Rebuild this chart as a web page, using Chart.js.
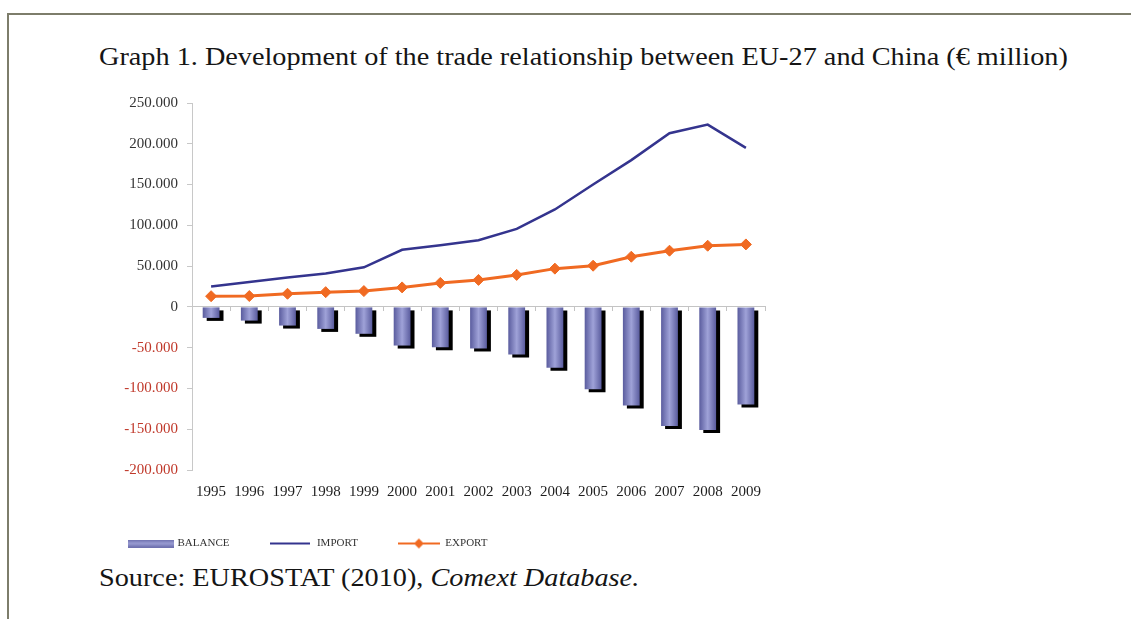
<!DOCTYPE html>
<html>
<head>
<meta charset="utf-8">
<script src="https://cdn.jsdelivr.net/npm/chart.js@4.4.1/dist/chart.umd.min.js"></script>
<style>
  html, body { margin: 0; padding: 0; background: #fff; }
  body { width: 1131px; height: 619px; position: relative; overflow: hidden;
         font-family: "Liberation Serif", "Times New Roman", serif; }
  #frame { position: absolute; left: 7px; top: 13px; width: 1130px; height: 612px;
           border-top: 2px solid #7d7d6b; border-left: 2px solid #7d7d6b; }
  #title, #source { position: absolute; left: 99px; font-size: 25px; line-height: 30px;
           color: #151515; white-space: nowrap; transform: scaleX(1.13); transform-origin: 0 50%; }
  #title { top: 42px; }
  #source { top: 563px; }
  #wrap { position: absolute; left: 0; top: 0; width: 1131px; height: 619px; }
</style>
</head>
<body>
<div id="frame"></div>
<div id="title">Graph 1. Development of the trade relationship between EU-27 and China (€ million)</div>
<div id="source">Source: EUROSTAT (2010), <i>Comext Database.</i></div>
<div id="wrap"><canvas id="chart" width="1131" height="619"></canvas></div>
<script>
// EU-27 trade with China, € million
const years = ['1995', '1996', '1997', '1998', '1999', '2000', '2001', '2002',
               '2003', '2004', '2005', '2006', '2007', '2008', '2009'];
const balance = [-13500, -16800, -22900, -27000, -33000, -47400, -49500, -51000,
                 -58400, -74700, -101000, -121000, -146000, -151000, -119600];
const imports = [25000, 30600, 36000, 41000, 48500, 70000, 75500, 81700,
                 95600, 119500, 150000, 180000, 213000, 223500, 195000];
const exports = [13100, 13300, 16100, 18100, 19400, 23900, 29400, 33100,
                 39200, 46900, 50500, 61500, 68900, 75000, 76600];
const seriesNames = ['BALANCE', 'IMPORT', 'EXPORT'];
const yMin = -200000, yMax = 250000, yStep = 50000;

const BAR_FRACTION = 0.44;
const IMPORT_COLOR = '#34348e';
const EXPORT_COLOR = '#f06a22';
const SERIF = '"Liberation Serif", "Times New Roman", serif';

// "250.000" style thousands separator
function fmt(v) {
  const s = Math.abs(v).toString().replace(/\B(?=(\d{3})+(?!\d))/g, '.');
  return (v < 0 ? '-' : '') + s;
}

// cylinder-like shading across each bar
function barFill(c) {
  const chart = c.chart;
  const xs = chart.scales && chart.scales.x;
  if (!chart.chartArea || !xs || c.dataIndex === undefined) return '#7f82c2';
  const cx = xs.getPixelForValue(c.dataIndex);
  const half = xs.width / years.length * BAR_FRACTION / 2;
  const g = chart.ctx.createLinearGradient(cx - half, 0, cx + half, 0);
  g.addColorStop(0, '#5a5c9e');
  g.addColorStop(0.5, '#9fa2d8');
  g.addColorStop(1, '#5a5c9e');
  return g;
}

// legend swatches
function swatch(w, h, paint) {
  const cv = document.createElement('canvas');
  cv.width = w; cv.height = h;
  paint(cv.getContext('2d'), w, h);
  return cv;
}
const balanceSwatch = swatch(46, 8, (g, w, h) => {
  const gr = g.createLinearGradient(0, 0, 0, h);
  gr.addColorStop(0, '#6a6cab'); gr.addColorStop(0.5, '#9a9dd3'); gr.addColorStop(1, '#6a6cab');
  g.fillStyle = gr; g.fillRect(0, 0, w, h);
});
const importSwatch = swatch(40, 6, (g, w, h) => {
  g.strokeStyle = IMPORT_COLOR; g.lineWidth = 2;
  g.beginPath(); g.moveTo(0, h / 2); g.lineTo(w, h / 2); g.stroke();
});
const exportSwatch = swatch(42, 12, (g, w, h) => {
  g.strokeStyle = EXPORT_COLOR; g.lineWidth = 2;
  g.beginPath(); g.moveTo(0, h / 2); g.lineTo(w, h / 2); g.stroke();
  g.fillStyle = EXPORT_COLOR;
  g.beginPath(); g.moveTo(w / 2 - 5, h / 2); g.lineTo(w / 2, h / 2 - 5);
  g.lineTo(w / 2 + 5, h / 2); g.lineTo(w / 2, h / 2 + 5); g.closePath(); g.fill();
});
const swatches = [balanceSwatch, importSwatch, exportSwatch];

// hard black drop shadow under the balance bars
const barShadow = {
  id: 'barShadow',
  beforeDatasetDraw(chart, args) {
    if (args.index !== 0) return;
    const ctx = chart.ctx;
    ctx.save();
    ctx.shadowColor = '#000';
    ctx.shadowOffsetX = 4;
    ctx.shadowOffsetY = 3;
    ctx.shadowBlur = 0;
  },
  afterDatasetDraw(chart, args) {
    if (args.index === 0) chart.ctx.restore();
  }
};

new Chart(document.getElementById('chart'), {
  type: 'bar',
  data: {
    labels: years,
    datasets: [
      {
        type: 'bar', label: seriesNames[0], data: balance,
        backgroundColor: barFill, borderWidth: 0,
        barPercentage: BAR_FRACTION, categoryPercentage: 1.0, order: 3
      },
      {
        type: 'line', label: seriesNames[1], data: imports,
        borderColor: IMPORT_COLOR, backgroundColor: IMPORT_COLOR, borderWidth: 2.5,
        pointRadius: 0, tension: 0, order: 2
      },
      {
        type: 'line', label: seriesNames[2], data: exports,
        borderColor: EXPORT_COLOR, backgroundColor: EXPORT_COLOR, borderWidth: 3,
        pointStyle: 'rectRot', pointRadius: 5.5, pointBorderWidth: 1,
        pointBackgroundColor: EXPORT_COLOR, pointBorderColor: EXPORT_COLOR,
        tension: 0, order: 1
      }
    ]
  },
  options: {
    responsive: false,
    animation: false,
    layout: { padding: { left: 90, right: 366, top: 103, bottom: 60 } },
    scales: {
      x: {
        type: 'category', position: 'bottom', offset: true,
        grid: { display: false, drawTicks: false },
        border: { display: false },
        ticks: { color: '#1e1e1e', font: { family: SERIF, size: 15 }, padding: 13,
                 maxRotation: 0, autoSkip: false },
        afterFit(scale) { scale.height = 28; }
      },
      x2: {
        type: 'category', axis: 'x', position: { y: 0 }, offset: true,
        grid: { offset: true, drawOnChartArea: false, drawTicks: true, tickLength: 4,
                color: '#c4c4c4', lineWidth: 1 },
        border: { display: true, color: '#c4c4c4', width: 1 },
        ticks: { display: false }
      },
      y: {
        type: 'linear', position: 'left', min: yMin, max: yMax,
        grid: { drawOnChartArea: false, drawTicks: true, tickLength: 5,
                color: '#c8c8c8', lineWidth: 1 },
        border: { display: true, color: '#c8c8c8', width: 1 },
        ticks: {
          stepSize: yStep,
          padding: 9,
          font: { family: SERIF, size: 15 },
          color: (c) => (c.tick && c.tick.value < 0 ? '#c0392b' : '#333333'),
          callback: (v) => fmt(v)
        },
        afterFit(scale) { scale.width = 102; }
      }
    },
    plugins: {
      title: { display: false },
      tooltip: { enabled: false },
      legend: {
        display: true, position: 'bottom', align: 'start',
        labels: {
          usePointStyle: true, pointStyleWidth: 42, padding: 40,
          color: '#333333', font: { family: SERIF, size: 11 },
          sort: (a, b) => a.datasetIndex - b.datasetIndex,
          generateLabels(chart) {
            const items = Chart.defaults.plugins.legend.labels.generateLabels(chart);
            items.forEach((it) => { it.pointStyle = swatches[it.datasetIndex]; });
            return items;
          }
        }
      }
    }
  },
  plugins: [barShadow]
});
</script>
</body>
</html>
